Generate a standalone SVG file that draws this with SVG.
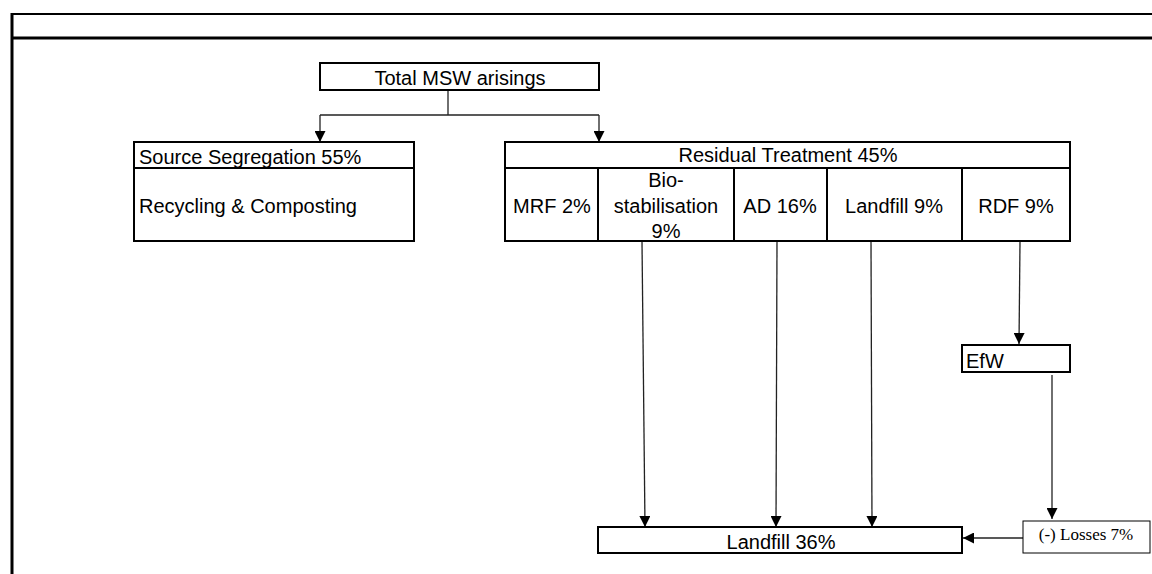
<svg xmlns="http://www.w3.org/2000/svg" width="1152" height="574" viewBox="0 0 1152 574">
<defs>
<style>
.box{fill:#fff;stroke:#000;stroke-width:2}
.thin{fill:#fff;stroke:#000;stroke-width:1}
.t{font-family:"Liberation Sans",Arial,sans-serif;font-size:20px;fill:#000}
.m{text-anchor:middle}
.tr{font-family:"Liberation Serif","Times New Roman",serif;font-size:17px;fill:#000;text-anchor:middle}
.c{fill:none;stroke:#222;stroke-width:1.3}
.frame{fill:none;stroke:#000}
</style>
<marker id="ah" viewBox="0 0 10 10" refX="10" refY="5" markerWidth="11" markerHeight="11" markerUnits="userSpaceOnUse" orient="auto">
<path d="M0,0 L10,5 L0,10 z" fill="#000"/>
</marker>
</defs>
<rect width="1152" height="574" fill="#fff"/>
<g id="frame">
<line class="frame" x1="11" y1="14" x2="1152" y2="14" stroke-width="2"/>
<line class="frame" x1="11" y1="38" x2="1152" y2="38" stroke-width="3"/>
<line class="frame" x1="12" y1="13" x2="12" y2="574" stroke-width="3"/>
</g>
<g id="connectors">
<polyline class="c" points="448,90 448,115"/>
<polyline class="c" points="320,115 599,115"/>
<line class="c" x1="320" y1="115" x2="320" y2="142" marker-end="url(#ah)"/>
<line class="c" x1="599" y1="115" x2="599" y2="142" marker-end="url(#ah)"/>
<line class="c" x1="642" y1="242" x2="645" y2="527" marker-end="url(#ah)"/>
<line class="c" x1="777" y1="242" x2="776" y2="527" marker-end="url(#ah)"/>
<line class="c" x1="871" y1="242" x2="872" y2="527" marker-end="url(#ah)"/>
<line class="c" x1="1020" y1="242" x2="1019" y2="344" marker-end="url(#ah)"/>
<line class="c" x1="1052" y1="375" x2="1052" y2="519" marker-end="url(#ah)"/>
<line class="c" x1="1023" y1="538" x2="963" y2="538" marker-end="url(#ah)"/>
</g>
<g id="total">
<rect class="box" x="320" y="63" width="279" height="27"/>
<text class="t m" x="460" y="85">Total MSW  arisings</text>
</g>
<g id="source">
<rect class="box" x="134" y="142" width="280" height="26"/>
<text class="t" x="139" y="164">Source Segregation 55%</text>
<rect class="box" x="134" y="168" width="280" height="73"/>
<text class="t" x="139" y="213">Recycling &amp; Composting</text>
</g>
<g id="residual">
<rect class="box" x="505" y="142" width="565" height="26"/>
<text class="t m" x="788" y="162">Residual Treatment 45%</text>
<rect class="box" x="505" y="168" width="565" height="73"/>
<line stroke="#000" stroke-width="2" x1="598" y1="168" x2="598" y2="241"/>
<line stroke="#000" stroke-width="2" x1="734" y1="168" x2="734" y2="241"/>
<line stroke="#000" stroke-width="2" x1="827" y1="168" x2="827" y2="241"/>
<line stroke="#000" stroke-width="2" x1="962" y1="168" x2="962" y2="241"/>
</g>
<g id="mrf"><text class="t m" x="552" y="213">MRF 2%</text></g>
<g id="biostab">
<text class="t m" x="666" y="187">Bio-</text>
<text class="t m" x="666" y="213">stabilisation</text>
<text class="t m" x="666" y="238">9%</text>
</g>
<g id="ad"><text class="t m" x="780" y="213">AD 16%</text></g>
<g id="landfill9"><text class="t m" x="894" y="213">Landfill 9%</text></g>
<g id="rdf"><text class="t m" x="1016" y="213">RDF 9%</text></g>
<g id="efw">
<rect class="box" x="962" y="345" width="108" height="27"/>
<text class="t" x="966" y="368">EfW</text>
</g>
<g id="landfill36">
<rect class="box" x="598" y="527" width="364" height="26"/>
<text class="t m" x="781" y="549">Landfill 36%</text>
</g>
<g id="losses">
<rect class="thin" x="1023" y="521" width="127" height="32"/>
<text class="tr" x="1086" y="540">(-) Losses 7%</text>
</g>
</svg>
